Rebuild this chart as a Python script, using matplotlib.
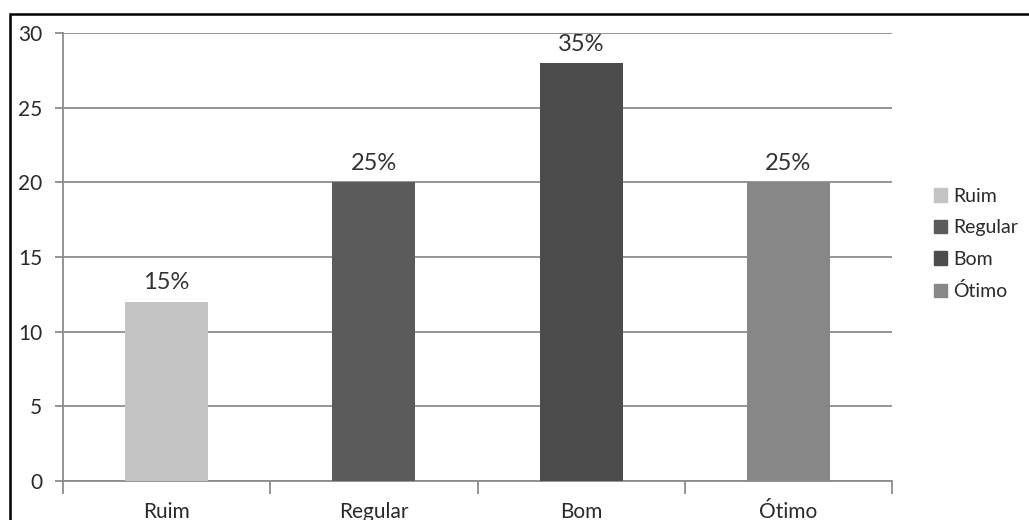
import matplotlib.pyplot as plt
from matplotlib.patches import Rectangle, Patch

categories = ['Ruim', 'Regular', 'Bom', 'Ótimo']
values = [12, 20, 28, 20]
pct_labels = ['15%', '25%', '35%', '25%']
colors = ['#c3c3c3', '#5b5b5b', '#4b4b4b', '#878787']

plt.rcParams['font.family'] = ['Lato', 'DejaVu Sans']

fig = plt.figure(figsize=(10.29, 5.2), dpi=100)
ax = fig.add_axes([63 / 1029, 1 - 481 / 520, (892 - 63) / 1029, (481 - 33) / 520])

x = range(len(categories))
bars = ax.bar(x, values, width=0.4, color=colors, zorder=3)

for b, lab in zip(bars, pct_labels):
    ax.annotate(lab, (b.get_x() + b.get_width() / 2, b.get_height()),
                xytext=(0, 6), textcoords='offset points',
                ha='center', va='bottom', fontsize=17, color='#333333')

ax.set_xlim(-0.5, len(categories) - 0.5)
ax.set_ylim(0, 30)
ax.set_yticks(range(0, 31, 5))
ax.yaxis.grid(True, color='#8c8c8c', linewidth=1.3, zorder=0)
ax.tick_params(axis='y', length=6, width=1.3, color='#8c8c8c', pad=9,
               labelsize=15, labelcolor='#2a2a2a')

# category boundaries get the tick marks, labels sit in the middle
ax.set_xticks([i - 0.5 for i in range(len(categories) + 1)])
ax.set_xticklabels([])
ax.set_xticks(list(x), minor=True)
ax.set_xticklabels(categories, minor=True)
ax.tick_params(axis='x', which='major', length=9, width=1.3, color='#8c8c8c')
ax.tick_params(axis='x', which='minor', length=0, pad=15, labelsize=15,
               labelcolor='#2a2a2a')

for s in ['top', 'right']:
    ax.spines[s].set_visible(False)
for s in ['left', 'bottom']:
    ax.spines[s].set_color('#8c8c8c')
    ax.spines[s].set_linewidth(1.3)

handles = [Patch(color=c, label=l) for c, l in zip(colors, categories)]
fig.legend(handles=handles, loc='center left', bbox_to_anchor=(916 / 1029, 1 - 244 / 520),
           frameon=False, fontsize=14, handlelength=0.7, handleheight=0.7,
           handletextpad=0.3, labelspacing=0.75, labelcolor='#2a2a2a')

fig.patches.append(Rectangle((9.5 / 1029, -0.2), 1.2, 1.2 - 13.5 / 520,
                             transform=fig.transFigure, fill=False,
                             edgecolor='black', linewidth=1.8, clip_on=False))

fig.savefig('out.png', dpi=100)
